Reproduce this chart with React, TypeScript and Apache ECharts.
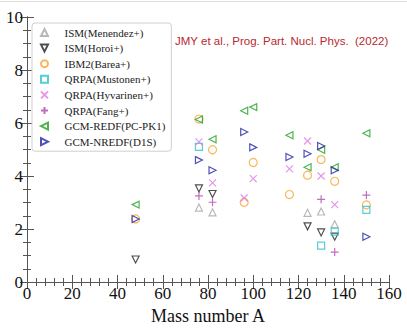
import React, { useEffect, useRef } from "react";
import * as echarts from "echarts";

// Mass numbers A and values |M|
const ismMenendezA = [76, 82, 124, 130, 136];
const ismMenendezM = [2.81, 2.63, 2.61, 2.66, 2.18];

const ismHoroiA = [48, 76, 82, 124, 130, 136];
const ismHoroiM = [0.85, 3.53, 3.32, 2.1, 1.87, 1.71];

const ibm2A = [48, 76, 82, 96, 100, 116, 124, 130, 136, 150];
const ibm2M = [2.38, 6.15, 4.99, 3.01, 4.51, 3.3, 4.03, 4.62, 3.8, 2.91];

const qrpaMustonenA = [76, 130, 136, 150];
const qrpaMustonenM = [5.1, 1.37, 1.9, 2.72];

const qrpaHyvarinenA = [76, 82, 96, 100, 116, 124, 130, 136];
const qrpaHyvarinenM = [5.29, 3.74, 3.17, 3.9, 4.27, 5.32, 4.0, 2.92];

const qrpaFangA = [76, 82, 130, 136, 150];
const qrpaFangM = [3.25, 3.01, 3.12, 1.13, 3.28];

const gcmRedfA = [48, 76, 82, 96, 100, 116, 124, 130, 136, 150];
const gcmRedfM = [2.92, 6.13, 5.39, 6.46, 6.6, 5.54, 4.33, 4.99, 4.33, 5.61];

const gcmNredfA = [48, 76, 82, 96, 100, 116, 124, 130, 136, 150];
const gcmNredfM = [2.38, 4.6, 4.22, 5.66, 5.08, 4.72, 4.84, 5.13, 4.22, 1.71];

const seriesNames = [
  "ISM(Menendez+)",
  "ISM(Horoi+)",
  "IBM2(Barea+)",
  "QRPA(Mustonen+)",
  "QRPA(Hyvarinen+)",
  "QRPA(Fang+)",
  "GCM-REDF(PC-PK1)",
  "GCM-NREDF(D1S)",
];

const xTicks = { min: 0, max: 160, interval: 20 };
const yTicks = { min: 0, max: 10, interval: 2 };

const pairs = (a: number[], m: number[]) => a.map((x, i) => [x, m[i]]);

const SERIF = "Liberation Serif";
const AXIS_COLOR = "#555";

export default function App() {
  const ref = useRef<HTMLDivElement>(null);
  useEffect(() => {
    if (!ref.current) return;
    const chart = echarts.init(ref.current, null, { renderer: "svg" });

    const defs = [
      { a: ismMenendezA, m: ismMenendezM, color: "#a6a6a6", symbol: "path://M5,0L10,10L0,10Z", size: 7 },
      { a: ismHoroiA, m: ismHoroiM, color: "#222222", symbol: "path://M0,0L10,0L5,10Z", size: 7 },
      { a: ibm2A, m: ibm2M, color: "#f7a530", symbol: "circle", size: 8 },
      { a: qrpaMustonenA, m: qrpaMustonenM, color: "#2cc3c8", symbol: "path://M0,0L10,0L10,10L0,10Z", size: 7 },
      { a: qrpaHyvarinenA, m: qrpaHyvarinenM, color: "#e07ce0", symbol: "path://M0,0L10,10M10,0L0,10", size: 7 },
      { a: qrpaFangA, m: qrpaFangM, color: "#b048b0", symbol: "path://M5,0L5,10M0,5L10,5", size: 8 },
      { a: gcmRedfA, m: gcmRedfM, color: "#24a024", symbol: "path://M0,5L10,0L10,10Z", size: 7 },
      { a: gcmNredfA, m: gcmNredfM, color: "#2424a8", symbol: "path://M0,0L10,5L0,10Z", size: 7 },
    ];

    const axisCommon = {
      type: "value" as const,
      axisLine: { show: true, lineStyle: { color: AXIS_COLOR, width: 1 } },
      axisTick: { show: true, inside: true, length: 7, lineStyle: { color: AXIS_COLOR } },
      splitLine: { show: false },
    };

    chart.setOption({
      animation: false,
      backgroundColor: "#ffffff",
      grid: { left: 27, right: 18, top: 17, bottom: 48 },
      legend: {
        orient: "vertical",
        left: 32,
        top: 23,
        padding: [4, 6, 4, 8],
        itemWidth: 30,
        itemHeight: 7,
        itemGap: 4.6,
        backgroundColor: "#ffffff",
        borderColor: "#cfcfcf",
        borderWidth: 1,
        borderRadius: 3,
        textStyle: { fontFamily: SERIF, fontSize: 11, color: "#222" },
        data: seriesNames,
      },
      xAxis: [
        {
          ...axisCommon,
          ...xTicks,
          position: "bottom",
          minorTick: { show: true, splitNumber: 5, length: 4, lineStyle: { color: AXIS_COLOR } },
          axisLabel: { fontFamily: SERIF, fontSize: 17, color: "#111", margin: 3 },
          name: "Mass number A",
          nameLocation: "middle",
          nameGap: 21,
          nameTextStyle: { fontFamily: SERIF, fontSize: 18, color: "#111" },
        },
        {
          ...axisCommon,
          ...xTicks,
          position: "top",
          minorTick: { show: true, splitNumber: 5, length: 4, lineStyle: { color: AXIS_COLOR } },
          axisLabel: { show: false },
        },
      ],
      yAxis: [
        {
          ...axisCommon,
          ...yTicks,
          position: "left",
          minorTick: { show: true, splitNumber: 4, length: 4, lineStyle: { color: AXIS_COLOR } },
          axisLabel: { fontFamily: SERIF, fontSize: 17, color: "#111", margin: 4 },
        },
        {
          ...axisCommon,
          ...yTicks,
          position: "right",
          minorTick: { show: true, splitNumber: 4, length: 4, lineStyle: { color: AXIS_COLOR } },
          axisLabel: { show: false },
        },
      ],
      graphic: [
        {
          type: "line",
          shape: { x1: 0, y1: 1.5, x2: 407, y2: 1.5 },
          style: { stroke: "#dddddd", lineWidth: 1 },
          silent: true,
        },
        {
          type: "text",
          left: 175,
          top: 35,
          style: {
            text: "JMY et al., Prog. Part. Nucl. Phys.  (2022)",
            fill: "#b8282e",
            font: "11.5px 'Liberation Sans', Arial, sans-serif",
          },
          silent: true,
        },
      ],
      series: defs.map((d, i) => ({
        type: "scatter",
        name: seriesNames[i],
        xAxisIndex: 0,
        yAxisIndex: 0,
        symbol: d.symbol,
        symbolSize: d.size,
        data: pairs(d.a, d.m),
        itemStyle: { color: "rgba(0,0,0,0)", borderColor: d.color, borderWidth: 1.2 },
        emphasis: { disabled: true },
      })),
    });

    return () => chart.dispose();
  }, []);

  return (
    <div
      ref={ref}
      style={{ position: "fixed", left: 0, top: 0, width: 407, height: 330 }}
    />
  );
}
